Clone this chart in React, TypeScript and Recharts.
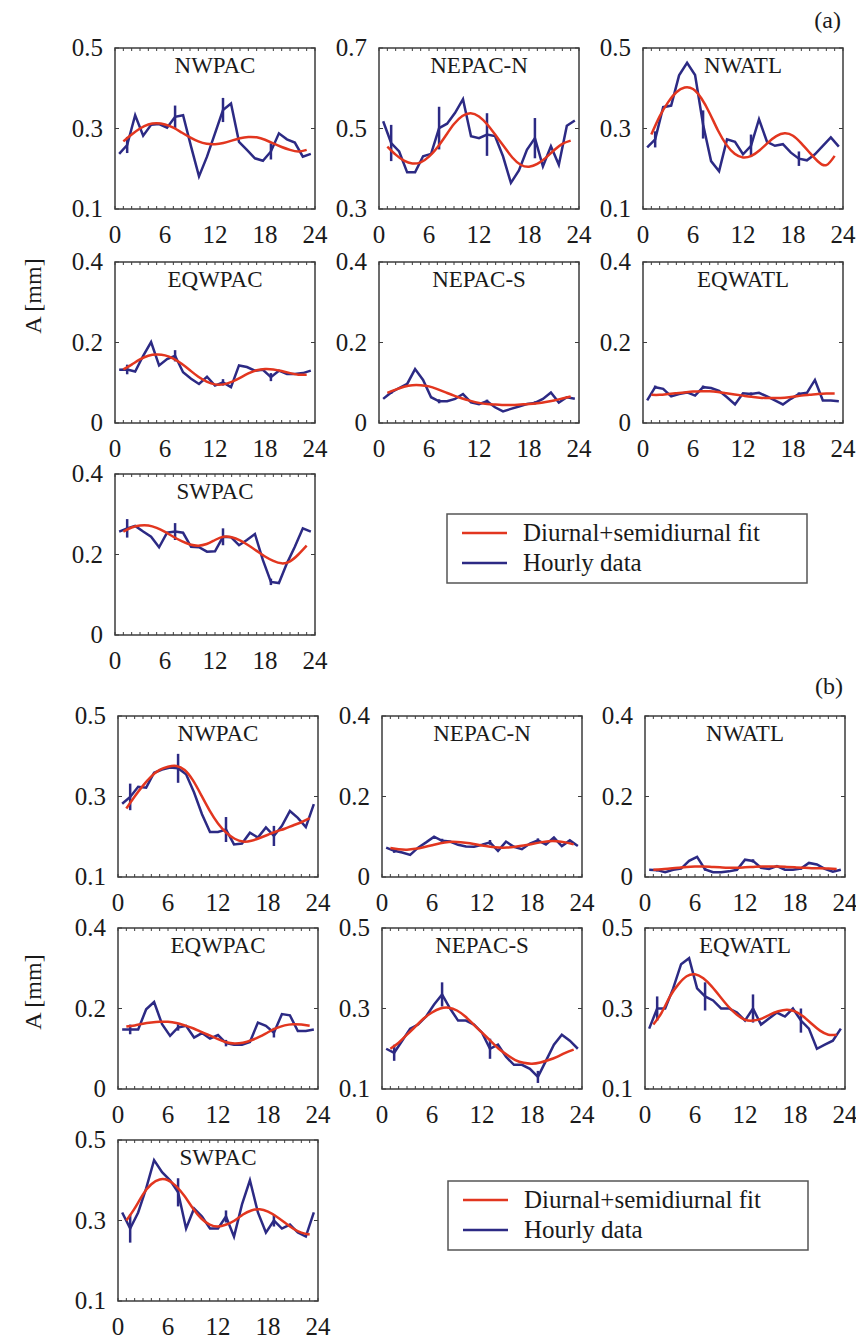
import React from 'react';
import { LineChart, Line, XAxis, YAxis, ReferenceArea, ErrorBar } from 'recharts';

const FONT = '"Liberation Serif", "Times New Roman", Times, serif';
const RED = '#e2361f';
const BLUE = '#2c2a84';
const FRAME = '#3c3c3c';
const TEXT = '#1a1a1a';

// x positions of the hourly samples and of the fitted curve
const HOURS = [0.5, 1.46, 2.42, 3.38, 4.33, 5.29, 6.25, 7.21, 8.17, 9.13, 10.08, 11.04, 12, 12.96, 13.92, 14.88, 15.83, 16.79, 17.75, 18.71, 19.67, 20.63, 21.58, 22.54, 23.5];
const FIT_HOURS = [1, 2, 3, 4, 5, 6, 7, 8, 9, 10, 11, 12, 13, 14, 15, 16, 17, 18, 19, 20, 21, 22, 23];
const ERR_INDEX = [1, 7, 13, 19];
const X_TICKS = [0, 1, 2, 3, 4, 5, 6, 7, 8, 9, 10, 11, 12, 13, 14, 15, 16, 17, 18, 19, 20, 21, 22, 23, 24];
const X_LABELS = [0, 6, 12, 18, 24];
const TICKS_01 = [0.1, 0.3, 0.5];
const TICKS_03 = [0.3, 0.5, 0.7];
const TICKS_00 = [0, 0.2, 0.4];

// ---- (a) ----
const A_NWPAC_HOURLY = [0.237, 0.259, 0.333, 0.282, 0.309, 0.311, 0.302, 0.329, 0.333, 0.255, 0.181, 0.23, 0.288, 0.346, 0.362, 0.267, 0.247, 0.226, 0.22, 0.243, 0.288, 0.273, 0.265, 0.23, 0.237];
const A_NWPAC_FIT = [0.268, 0.285, 0.3, 0.31, 0.313, 0.31, 0.302, 0.29, 0.278, 0.268, 0.262, 0.261, 0.264, 0.27, 0.276, 0.279, 0.278, 0.272, 0.263, 0.254, 0.247, 0.243, 0.247];
const A_NWPAC_ERR = [0.02, 0.028, 0.03, 0.02];

const A_NEPACN_HOURLY = [0.518, 0.464, 0.443, 0.391, 0.391, 0.431, 0.437, 0.501, 0.512, 0.539, 0.573, 0.481, 0.476, 0.485, 0.481, 0.431, 0.365, 0.396, 0.447, 0.476, 0.406, 0.456, 0.41, 0.507, 0.52];
const A_NEPACN_FIT = [0.455, 0.435, 0.42, 0.413, 0.416, 0.43, 0.453, 0.482, 0.511, 0.531, 0.538, 0.53, 0.51, 0.483, 0.455, 0.428, 0.41, 0.405, 0.412, 0.427, 0.446, 0.462, 0.47];
const A_NEPACN_ERR = [0.045, 0.053, 0.053, 0.05];

const A_NWATL_HOURLY = [0.253, 0.273, 0.353, 0.357, 0.432, 0.463, 0.433, 0.31, 0.219, 0.194, 0.273, 0.267, 0.236, 0.257, 0.323, 0.267, 0.257, 0.261, 0.24, 0.225, 0.221, 0.236, 0.257, 0.278, 0.255];
const A_NWATL_FIT = [0.285, 0.33, 0.365, 0.39, 0.402, 0.398, 0.375, 0.338, 0.295, 0.26, 0.237, 0.228, 0.232, 0.246, 0.265, 0.281, 0.288, 0.282, 0.263, 0.24, 0.218, 0.209, 0.232];
const A_NWATL_ERR = [0.02, 0.035, 0.028, 0.018];

const A_EQWPAC_HOURLY = [0.132, 0.133, 0.128, 0.167, 0.201, 0.143, 0.159, 0.167, 0.126, 0.11, 0.097, 0.115, 0.093, 0.101, 0.089, 0.143, 0.139, 0.13, 0.132, 0.114, 0.13, 0.122, 0.122, 0.124, 0.13];
const A_EQWPAC_FIT = [0.133, 0.145, 0.158, 0.167, 0.17, 0.168, 0.16, 0.147, 0.131, 0.115, 0.103, 0.096, 0.096, 0.102, 0.112, 0.123, 0.131, 0.134, 0.133, 0.129, 0.124, 0.12, 0.12];
const A_EQWPAC_ERR = [0.012, 0.014, 0.008, 0.01];

const A_NEPACS_HOURLY = [0.06, 0.076, 0.087, 0.097, 0.134, 0.107, 0.064, 0.054, 0.054, 0.06, 0.072, 0.051, 0.047, 0.054, 0.039, 0.029, 0.035, 0.041, 0.047, 0.05, 0.06, 0.076, 0.051, 0.064, 0.06];
const A_NEPACS_FIT = [0.075, 0.083, 0.09, 0.094, 0.094, 0.091, 0.084, 0.076, 0.068, 0.061, 0.055, 0.05, 0.047, 0.046, 0.045, 0.045, 0.046, 0.047, 0.049, 0.052, 0.056, 0.061, 0.066];
const A_NEPACS_ERR = [0.004, 0.005, 0.004, 0.004];

const A_EQWATL_HOURLY = [0.056, 0.089, 0.085, 0.066, 0.072, 0.076, 0.068, 0.089, 0.087, 0.08, 0.064, 0.046, 0.074, 0.072, 0.075, 0.066, 0.056, 0.046, 0.06, 0.072, 0.075, 0.107, 0.056, 0.056, 0.054];
const A_EQWATL_FIT = [0.07, 0.07, 0.072, 0.074, 0.076, 0.078, 0.079, 0.079, 0.077, 0.074, 0.071, 0.068, 0.065, 0.063, 0.062, 0.062, 0.063, 0.065, 0.068, 0.07, 0.072, 0.073, 0.073];
const A_EQWATL_ERR = [0.004, 0.004, 0.004, 0.004];

const A_SWPAC_HOURLY = [0.257, 0.265, 0.271, 0.257, 0.244, 0.218, 0.254, 0.257, 0.254, 0.219, 0.218, 0.207, 0.208, 0.244, 0.243, 0.223, 0.236, 0.251, 0.186, 0.132, 0.129, 0.178, 0.219, 0.265, 0.257];
const A_SWPAC_FIT = [0.257, 0.267, 0.272, 0.272, 0.266, 0.256, 0.244, 0.233, 0.225, 0.222, 0.226, 0.236, 0.244, 0.243, 0.235, 0.223, 0.209, 0.195, 0.184, 0.178, 0.183, 0.2, 0.222];
const A_SWPAC_ERR = [0.023, 0.021, 0.021, 0.008];

// ---- (b) ----
const B_NWPAC_HOURLY = [0.282, 0.299, 0.324, 0.322, 0.359, 0.367, 0.372, 0.37, 0.355, 0.31, 0.256, 0.212, 0.212, 0.218, 0.181, 0.183, 0.21, 0.198, 0.223, 0.202, 0.227, 0.264, 0.247, 0.224, 0.281];
const B_NWPAC_FIT = [0.27, 0.3, 0.327, 0.35, 0.366, 0.374, 0.376, 0.366, 0.34, 0.303, 0.265, 0.233, 0.21, 0.195, 0.188, 0.19, 0.197, 0.205, 0.213, 0.22, 0.228, 0.236, 0.246];
const B_NWPAC_ERR = [0.033, 0.036, 0.031, 0.025];

const B_NEPACN_HOURLY = [0.073, 0.065, 0.061, 0.055, 0.073, 0.086, 0.1, 0.09, 0.088, 0.08, 0.076, 0.075, 0.08, 0.086, 0.065, 0.088, 0.075, 0.069, 0.083, 0.091, 0.081, 0.098, 0.077, 0.091, 0.077];
const B_NEPACN_FIT = [0.072, 0.069, 0.068, 0.07, 0.074, 0.079, 0.084, 0.087, 0.087, 0.085, 0.082, 0.078, 0.075, 0.073, 0.073, 0.075, 0.078, 0.082, 0.086, 0.089, 0.089, 0.086, 0.081];
const B_NEPACN_ERR = [0.005, 0.005, 0.006, 0.005];

const B_NWATL_HOURLY = [0.018, 0.017, 0.012, 0.018, 0.021, 0.04, 0.05, 0.019, 0.012, 0.012, 0.014, 0.018, 0.043, 0.04, 0.023, 0.02, 0.027, 0.018, 0.018, 0.021, 0.035, 0.031, 0.02, 0.013, 0.018];
const B_NWATL_FIT = [0.018, 0.019, 0.021, 0.023, 0.025, 0.026, 0.026, 0.025, 0.024, 0.023, 0.023, 0.024, 0.025, 0.026, 0.026, 0.026, 0.025, 0.024, 0.023, 0.022, 0.022, 0.021, 0.02];
const B_NWATL_ERR = [0.003, 0.003, 0.004, 0.003];

const B_EQWPAC_HOURLY = [0.148, 0.148, 0.148, 0.198, 0.216, 0.161, 0.132, 0.153, 0.157, 0.128, 0.139, 0.125, 0.134, 0.114, 0.11, 0.11, 0.117, 0.165, 0.157, 0.14, 0.186, 0.183, 0.144, 0.144, 0.148];
const B_EQWPAC_FIT = [0.155, 0.158, 0.162, 0.165, 0.167, 0.167, 0.164, 0.158, 0.151, 0.142, 0.133, 0.124, 0.116, 0.113, 0.115, 0.121, 0.13, 0.141, 0.151, 0.158, 0.161, 0.16, 0.157];
const B_EQWPAC_ERR = [0.012, 0.008, 0.008, 0.012];

const B_NEPACS_HOURLY = [0.2, 0.19, 0.22, 0.25, 0.26, 0.28, 0.31, 0.335, 0.3, 0.27, 0.27, 0.26, 0.24, 0.2, 0.21, 0.18, 0.16, 0.16, 0.15, 0.13, 0.17, 0.21, 0.235, 0.22, 0.2];
const B_NEPACS_FIT = [0.2, 0.215, 0.235, 0.255, 0.275, 0.29, 0.3, 0.302, 0.295, 0.28, 0.26, 0.24, 0.22, 0.2, 0.185, 0.172, 0.165, 0.163, 0.166, 0.172, 0.18, 0.19, 0.198];
const B_NEPACS_ERR = [0.02, 0.03, 0.025, 0.015];

const B_EQWATL_HOURLY = [0.25, 0.3, 0.3, 0.35, 0.41, 0.425, 0.35, 0.33, 0.32, 0.3, 0.3, 0.29, 0.27, 0.3, 0.26, 0.275, 0.29, 0.28, 0.3, 0.27, 0.25, 0.2, 0.21, 0.22, 0.25];
const B_EQWATL_FIT = [0.26, 0.29, 0.33, 0.36, 0.38, 0.385, 0.375, 0.355, 0.33, 0.305, 0.285, 0.272, 0.27, 0.275, 0.285, 0.293, 0.297, 0.293, 0.28, 0.262, 0.245, 0.235, 0.235];
const B_EQWATL_ERR = [0.03, 0.035, 0.035, 0.03];

const B_SWPAC_HOURLY = [0.32, 0.28, 0.32, 0.38, 0.45, 0.42, 0.4, 0.37, 0.28, 0.33, 0.31, 0.28, 0.28, 0.31, 0.26, 0.34, 0.4, 0.32, 0.27, 0.3, 0.28, 0.29, 0.27, 0.26, 0.32];
const B_SWPAC_FIT = [0.3, 0.33, 0.365, 0.39, 0.402, 0.4, 0.385, 0.36, 0.33, 0.305, 0.29, 0.285, 0.29, 0.3, 0.315, 0.325, 0.328, 0.322, 0.31, 0.295, 0.28, 0.27, 0.265];
const B_SWPAC_ERR = [0.035, 0.035, 0.015, 0.015];

// ---- layout ----
const PANEL_W = 200;
const PANEL_H = 161;
const PAD_L = 75;
const PAD_R = 26;
const PAD_T = 22;
const PAD_B = 42;
const AXIS_PX = 1;
const TICK_FONT = 25;

type PanelCfg = {
  title: string;
  left: number;
  top: number;
  domain: [number, number];
  ticks: number[];
  hourly: number[];
  fit: number[];
  err: number[];
};

const COLS_A = [115, 379, 643];
const ROWS_A = [48, 262, 474];
const COLS_B = [118, 382, 645];
const ROWS_B = [716, 928, 1140];

const PANELS: PanelCfg[] = [
  { title: 'NWPAC', left: COLS_A[0], top: ROWS_A[0], domain: [0.1, 0.5], ticks: TICKS_01, hourly: A_NWPAC_HOURLY, fit: A_NWPAC_FIT, err: A_NWPAC_ERR },
  { title: 'NEPAC-N', left: COLS_A[1], top: ROWS_A[0], domain: [0.3, 0.7], ticks: TICKS_03, hourly: A_NEPACN_HOURLY, fit: A_NEPACN_FIT, err: A_NEPACN_ERR },
  { title: 'NWATL', left: COLS_A[2], top: ROWS_A[0], domain: [0.1, 0.5], ticks: TICKS_01, hourly: A_NWATL_HOURLY, fit: A_NWATL_FIT, err: A_NWATL_ERR },
  { title: 'EQWPAC', left: COLS_A[0], top: ROWS_A[1], domain: [0, 0.4], ticks: TICKS_00, hourly: A_EQWPAC_HOURLY, fit: A_EQWPAC_FIT, err: A_EQWPAC_ERR },
  { title: 'NEPAC-S', left: COLS_A[1], top: ROWS_A[1], domain: [0, 0.4], ticks: TICKS_00, hourly: A_NEPACS_HOURLY, fit: A_NEPACS_FIT, err: A_NEPACS_ERR },
  { title: 'EQWATL', left: COLS_A[2], top: ROWS_A[1], domain: [0, 0.4], ticks: TICKS_00, hourly: A_EQWATL_HOURLY, fit: A_EQWATL_FIT, err: A_EQWATL_ERR },
  { title: 'SWPAC', left: COLS_A[0], top: ROWS_A[2], domain: [0, 0.4], ticks: TICKS_00, hourly: A_SWPAC_HOURLY, fit: A_SWPAC_FIT, err: A_SWPAC_ERR },
  { title: 'NWPAC', left: COLS_B[0], top: ROWS_B[0], domain: [0.1, 0.5], ticks: TICKS_01, hourly: B_NWPAC_HOURLY, fit: B_NWPAC_FIT, err: B_NWPAC_ERR },
  { title: 'NEPAC-N', left: COLS_B[1], top: ROWS_B[0], domain: [0, 0.4], ticks: TICKS_00, hourly: B_NEPACN_HOURLY, fit: B_NEPACN_FIT, err: B_NEPACN_ERR },
  { title: 'NWATL', left: COLS_B[2], top: ROWS_B[0], domain: [0, 0.4], ticks: TICKS_00, hourly: B_NWATL_HOURLY, fit: B_NWATL_FIT, err: B_NWATL_ERR },
  { title: 'EQWPAC', left: COLS_B[0], top: ROWS_B[1], domain: [0, 0.4], ticks: TICKS_00, hourly: B_EQWPAC_HOURLY, fit: B_EQWPAC_FIT, err: B_EQWPAC_ERR },
  { title: 'NEPAC-S', left: COLS_B[1], top: ROWS_B[1], domain: [0.1, 0.5], ticks: TICKS_01, hourly: B_NEPACS_HOURLY, fit: B_NEPACS_FIT, err: B_NEPACS_ERR },
  { title: 'EQWATL', left: COLS_B[2], top: ROWS_B[1], domain: [0.1, 0.5], ticks: TICKS_01, hourly: B_EQWATL_HOURLY, fit: B_EQWATL_FIT, err: B_EQWATL_ERR },
  { title: 'SWPAC', left: COLS_B[0], top: ROWS_B[2], domain: [0.1, 0.5], ticks: TICKS_01, hourly: B_SWPAC_HOURLY, fit: B_SWPAC_FIT, err: B_SWPAC_ERR },
];

const renderXTick = (t: any) => {
  const { x, y, payload } = t;
  const v = payload.value;
  return (
    <g key={`xt-${v}`}>
      <line x1={x} x2={x} y1={y} y2={y - 3} stroke={FRAME} strokeWidth={1} />
      <line x1={x} x2={x} y1={y - PANEL_H} y2={y - PANEL_H + 3} stroke={FRAME} strokeWidth={1} />
      {X_LABELS.includes(v) && (
        <text x={x} y={y + 34} textAnchor="middle" fontSize={TICK_FONT} fontFamily={FONT} fill={TEXT}>
          {String(v)}
        </text>
      )}
    </g>
  );
};

const renderYTick = (t: any) => {
  const { x, y, payload } = t;
  const v = payload.value;
  return (
    <g key={`yt-${v}`}>
      <line x1={x} x2={x + 4} y1={y} y2={y} stroke={FRAME} strokeWidth={1} />
      <line x1={x + PANEL_W} x2={x + PANEL_W - 4} y1={y} y2={y} stroke={FRAME} strokeWidth={1} />
      <text x={x - 12} y={y + 8} textAnchor="end" fontSize={TICK_FONT} fontFamily={FONT} fill={TEXT}>
        {String(v)}
      </text>
    </g>
  );
};

function Panel({ cfg }: { cfg: PanelCfg }) {
  const hourlyData = HOURS.map((x, i) => {
    const k = ERR_INDEX.indexOf(i);
    return { x, v: cfg.hourly[i], e: k >= 0 ? cfg.err[k] : null };
  });
  const fitData = FIT_HOURS.map((x, i) => ({ x, v: cfg.fit[i] }));
  return (
    <div style={{ position: 'absolute', left: cfg.left - PAD_L, top: cfg.top - PAD_T }}>
      <LineChart
        width={PANEL_W + PAD_L + PAD_R}
        height={PANEL_H + PAD_T + PAD_B}
        margin={{ top: PAD_T, right: PAD_R, bottom: PAD_B - AXIS_PX, left: PAD_L - AXIS_PX }}
      >
        <XAxis
          dataKey="x"
          type="number"
          domain={[0, 24]}
          ticks={X_TICKS}
          interval={0}
          height={AXIS_PX}
          tickSize={0}
          tickMargin={0}
          axisLine={false}
          tickLine={false}
          allowDataOverflow
          tick={renderXTick}
        />
        <YAxis
          type="number"
          domain={cfg.domain}
          ticks={cfg.ticks}
          interval={0}
          width={AXIS_PX}
          tickSize={0}
          tickMargin={0}
          axisLine={false}
          tickLine={false}
          allowDataOverflow
          tick={renderYTick}
        />
        <ReferenceArea
          x1={0}
          x2={24}
          y1={cfg.domain[0]}
          y2={cfg.domain[1]}
          fill="none"
          fillOpacity={0}
          stroke={FRAME}
          strokeWidth={1.5}
          label={{ value: cfg.title, position: 'insideTop', offset: 9, fontSize: 23, fontFamily: FONT, fill: TEXT }}
        />
        <Line
          data={hourlyData}
          dataKey="v"
          name="Hourly data"
          type="linear"
          stroke={BLUE}
          strokeWidth={2.5}
          dot={false}
          isAnimationActive={false}
        >
          <ErrorBar dataKey="e" width={0} stroke={BLUE} strokeWidth={2.5} direction="y" isAnimationActive={false} />
        </Line>
        <Line
          data={fitData}
          dataKey="v"
          name="Diurnal+semidiurnal fit"
          type="natural"
          stroke={RED}
          strokeWidth={2.5}
          dot={false}
          isAnimationActive={false}
        />
      </LineChart>
    </div>
  );
}

function LegendBox({ left, top }: { left: number; top: number }) {
  return (
    <svg style={{ position: 'absolute', left, top }} width={362} height={71}>
      <rect x={1} y={1} width={360} height={69} fill="#fff" stroke="#555" strokeWidth={1.5} />
      <line x1={16} x2={61} y1={20} y2={20} stroke={RED} strokeWidth={2.5} />
      <text x={77} y={28} fontSize={25} fontFamily={FONT} fill={TEXT}>Diurnal+semidiurnal fit</text>
      <line x1={16} x2={61} y1={50} y2={50} stroke={BLUE} strokeWidth={2.5} />
      <text x={77} y={58} fontSize={25} fontFamily={FONT} fill={TEXT}>Hourly data</text>
    </svg>
  );
}

function SideText({ x, y, text, rotate }: { x: number; y: number; text: string; rotate?: boolean }) {
  return (
    <svg style={{ position: 'absolute', left: 0, top: 0, pointerEvents: 'none' }} width={856} height={1340}>
      <text
        x={x}
        y={y}
        fontSize={24}
        fontFamily={FONT}
        fill={TEXT}
        textAnchor={rotate ? 'middle' : 'end'}
        transform={rotate ? `rotate(-90 ${x} ${y})` : undefined}
      >
        {text}
      </text>
    </svg>
  );
}

export default function App() {
  return (
    <div style={{ position: 'absolute', left: 0, top: 0, width: 856, height: 1340, background: '#fff', overflow: 'hidden' }}>
      {PANELS.map((p, i) => (
        <Panel key={i} cfg={p} />
      ))}
      <LegendBox left={446} top={513} />
      <LegendBox left={447} top={1180} />
      <SideText x={841} y={28} text="(a)" />
      <SideText x={843} y={694} text="(b)" />
      <SideText x={41} y={296} text="A [mm]" rotate />
      <SideText x={41} y={992} text="A [mm]" rotate />
    </div>
  );
}
